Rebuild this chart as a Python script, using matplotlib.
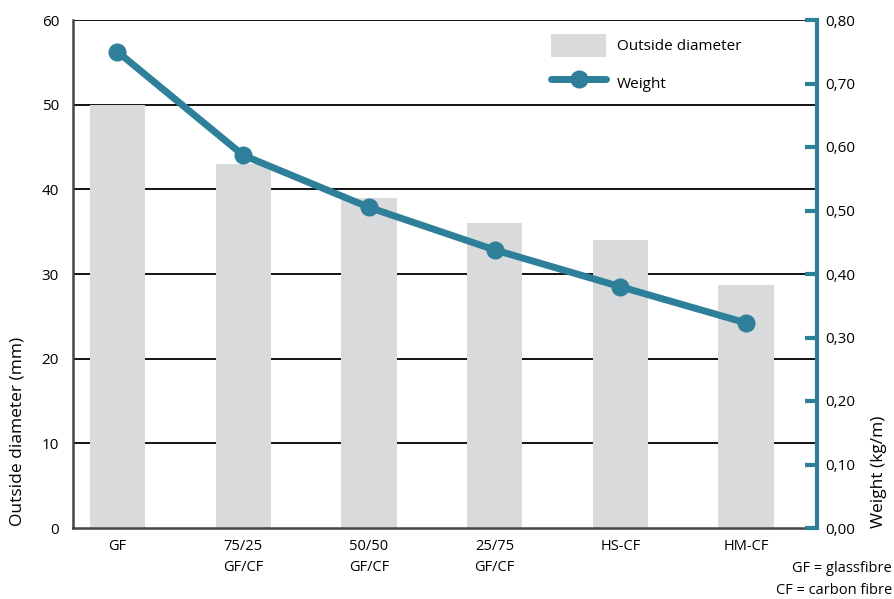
import matplotlib.pyplot as plt
from matplotlib.ticker import FuncFormatter

# Data
categories = ["GF", "75/25\nGF/CF", "50/50\nGF/CF", "25/75\nGF/CF", "HS-CF", "HM-CF"]
outside_diameter = [50, 43, 39, 36, 34, 28.7]
weight = [0.75, 0.587, 0.505, 0.438, 0.38, 0.323]

teal = "#2E7F99"
grey = "#D9DADC"

plt.rcParams['font.family'] = ['Open Sans', 'DejaVu Sans']

fig = plt.figure(figsize=(8.94, 5.99), dpi=100)
ax = fig.add_axes([73 / 894, 1 - 528 / 599, 744 / 894, 508 / 599])
ax2 = ax.twinx()

x = list(range(len(categories)))

# grid lines behind bars
ax.set_ylim(0, 60)
ax.set_yticks(range(0, 61, 10))
for y in range(10, 61, 10):
    ax.axhline(y, color="black", lw=1.3, zorder=0)
ax.bar(x, outside_diameter, width=0.44, color=grey, zorder=1, label="Outside diameter")
ax.set_xlim(-0.354, 5.565)
ax.set_xticks(x)
ax.set_xticklabels(categories, fontsize=10.5, linespacing=1.5)
ax.tick_params(axis="y", length=0, labelsize=11, pad=10)
ax.tick_params(axis="x", length=0, pad=8)

ax2.plot(x, weight, color=teal, lw=5, marker="o", markersize=12,
         solid_capstyle="round", zorder=5, label="Weight")
ax2.set_ylim(0, 0.8)
ax2.set_yticks([i / 10 for i in range(9)])
ax2.yaxis.set_major_formatter(FuncFormatter(lambda v, p: f"{v:.2f}".replace(".", ",")))
ax2.tick_params(axis="y", direction="in", length=9, width=3, color=teal,
                labelsize=11, pad=6)

for a in (ax, ax2):
    a.spines["top"].set_visible(False)
ax.spines["right"].set_visible(False)
ax.spines["left"].set_color("#444444")
ax.spines["left"].set_linewidth(1.8)
ax.spines["bottom"].set_color("#444444")
ax.spines["bottom"].set_linewidth(1.8)
ax2.spines["left"].set_visible(False)
ax2.spines["bottom"].set_visible(False)
ax2.spines["right"].set_color(teal)
ax2.spines["right"].set_linewidth(3)
ax.set_zorder(0)
ax2.set_zorder(1)

fig.text(18 / 894, 1 - 526 / 599, "Outside diameter (mm)", rotation=90,
         ha="center", va="bottom", fontsize=12.5)
fig.text(879 / 894, 1 - 528 / 599, "Weight (kg/m)", rotation=90,
         ha="center", va="bottom", fontsize=12.5)

h1, l1 = ax.get_legend_handles_labels()
h2, l2 = ax2.get_legend_handles_labels()
ax2.legend(h1 + h2, l1 + l2, loc="upper left", bbox_to_anchor=(0.624, 1.0),
           frameon=False, fontsize=11, handlelength=3.6, handleheight=2.0,
           labelspacing=0.9, handletextpad=0.7)

fig.text(892 / 894, 1 - 568 / 599, "GF = glassfibre", ha="right", va="center", fontsize=10.5)
fig.text(892 / 894, 1 - 590 / 599, "CF = carbon fibre", ha="right", va="center", fontsize=10.5)

fig.savefig("out.png", dpi=100)
